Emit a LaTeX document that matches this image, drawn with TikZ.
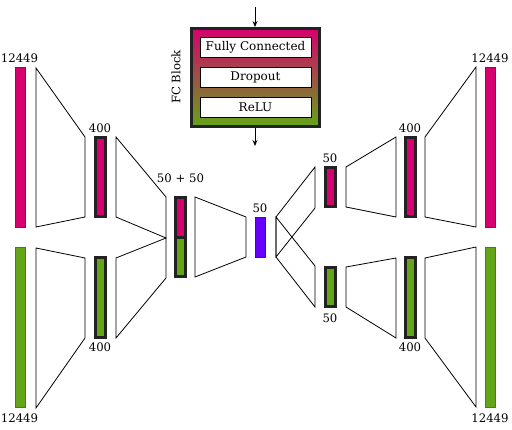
\documentclass[tikz,border=0pt]{standalone}
\usepackage{fontspec}
\setmainfont{DejaVu Serif}
\usetikzlibrary{arrows.meta}
\definecolor{mag}{HTML}{D6006E}
\definecolor{magd}{HTML}{A8005A}
\definecolor{grn}{HTML}{63A518}
\definecolor{grnd}{HTML}{4A7E12}
\definecolor{pur}{HTML}{6600FF}
\definecolor{purd}{HTML}{4A00C0}
\definecolor{dark}{HTML}{222222}
\tikzset{
  trap/.style={draw=black, line width=0.8pt, line join=miter},
  thick box/.style={draw=dark, line width=3pt},
  magbar/.style={fill=mag, draw=magd, line width=0.6pt},
  grnbar/.style={fill=grn, draw=grnd, line width=0.6pt},
  lab/.style={font=\fontsize{11.7}{14}\selectfont, anchor=base, inner sep=0pt},
  layer/.style={draw=black, fill=white, line width=0.8pt, minimum width=111pt, minimum height=20pt, inner sep=0pt, font=\fontsize{12}{14}\selectfont},
  arr/.style={-{Stealth[length=6pt,width=5pt]}, line width=0.8pt}
}
\begin{document}
\begin{tikzpicture}[x=1pt,y=-1pt]
\useasboundingbox (0,0) rectangle (512,429);
% FC block
\node[thick box, top color=mag, bottom color=grn, minimum width=128pt, minimum height=98pt, inner sep=0pt] (fc) at (255.5,77.5) {};
\node[layer] (fcl) at (255.5,47) {Fully Connected};
\node[layer] (dol) at (255.5,77) {Dropout};
\node[layer] (rel) at (255.5,107) {ReLU};
\node[font=\fontsize{11.7}{14}\selectfont, rotate=90, inner sep=0pt] (fcb) at (176,77) {FC Block};
\coordinate (fcin) at (255,7);
\coordinate (fcout) at (255,146);
\draw[arr] (fcin) -- (fc.north -| fcin);
\draw[arr] (fc.south -| fcout) -- (fcout);
% bars
\draw[magbar] (15,67) rectangle (25.5,227);
\draw[grnbar] (15,247) rectangle (25.5,407);
\draw[magbar] (485,67) rectangle (495.5,227);
\draw[grnbar] (485,247) rectangle (495.5,407);
% trapezoids
\draw[trap] (36,68) -- (85,137) -- (85,217) -- (36,227) -- cycle;
\draw[trap] (36,248) -- (85,258) -- (85,338) -- (36,408) -- cycle;
\draw[trap] (116,137) -- (166,197) -- (166,238) -- (116,217) -- cycle;
\draw[trap] (116,258) -- (166,238) -- (166,278) -- (116,338) -- cycle;
\draw[trap] (195,197) -- (246,217) -- (246,257) -- (195,277) -- cycle;
\draw[trap] (276,217) -- (315,167) -- (315,208) -- (276,257) -- cycle;
\draw[trap] (276,217) -- (315,266) -- (315,307) -- (276,257) -- cycle;
\draw[trap] (346,167) -- (396,137) -- (396,217) -- (346,207) -- cycle;
\draw[trap] (346,267) -- (396,258) -- (396,338) -- (346,307) -- cycle;
\draw[trap] (425,137) -- (476,67) -- (476,227) -- (425,217) -- cycle;
\draw[trap] (425,258) -- (476,247) -- (476,407) -- (425,338) -- cycle;
% thick boxes
\draw[thick box, fill=mag] (95.5,137.5) rectangle (105.5,216.5);
\draw[thick box, fill=grn] (95.5,257.5) rectangle (105.5,337.5);
\draw[thick box, fill=mag] (175.5,197.5) rectangle (185.5,237);
\draw[thick box, fill=grn] (175.5,237) rectangle (185.5,276.5);
\draw[thick box, fill=mag] (325.5,167.5) rectangle (335.5,206.5);
\draw[thick box, fill=grn] (325.5,267.5) rectangle (335.5,306.5);
\draw[thick box, fill=mag] (405.5,137.5) rectangle (415.5,216.5);
\draw[thick box, fill=grn] (405.5,257.5) rectangle (415.5,337.5);
% purple latent
\draw[fill=pur, draw=purd, line width=0.6pt] (255,217) rectangle (265.5,257.5);
% labels
\node[lab] (l1) at (19.5,62) {12449};
\node[lab] (l2) at (100,132) {400};
\node[lab] (l3) at (100,351) {400};
\node[lab] (l4) at (19.5,422) {12449};
\node[lab] (l5) at (180.5,182) {50 + 50};
\node[lab] (l6) at (260,212) {50};
\node[lab] (l7) at (330,162) {50};
\node[lab] (l8) at (330,322) {50};
\node[lab] (l9) at (410,132) {400};
\node[lab] (l10) at (410,351) {400};
\node[lab] (l11) at (490,62) {12449};
\node[lab] (l12) at (490,422) {12449};
\end{tikzpicture}
\end{document}
